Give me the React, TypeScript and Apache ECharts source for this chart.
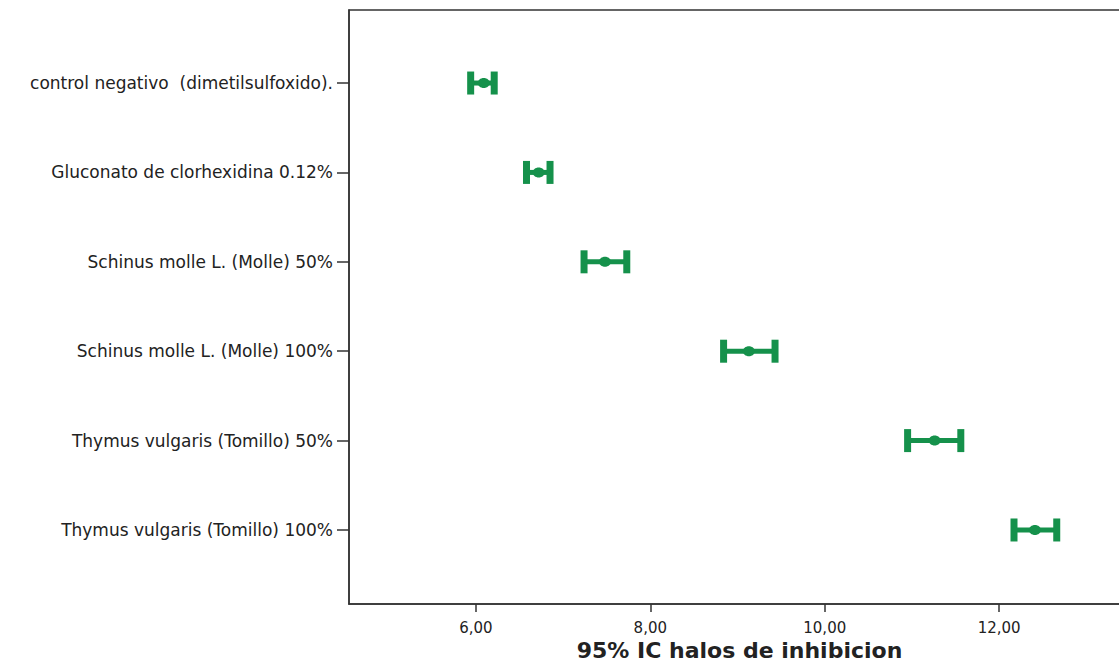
import React, { useEffect, useRef } from "react";
import * as echarts from "echarts";

const categories = [
  "control negativo  (dimetilsulfoxido).",
  "Gluconato de clorhexidina 0.12%",
  "Schinus molle L. (Molle) 50%",
  "Schinus molle L. (Molle) 100%",
  "Thymus vulgaris (Tomillo) 50%",
  "Thymus vulgaris (Tomillo) 100%",
];
const lower = [5.94, 6.58, 7.24, 8.84, 10.95, 12.17];
const means = [6.09, 6.72, 7.48, 9.13, 11.26, 12.41];
const upper = [6.21, 6.85, 7.73, 9.43, 11.56, 12.66];
const xTicks = [6, 8, 10, 12];
const xTitle = "95% IC halos de inhibicion";

const GREEN = "#15914b";

export default function App() {
  const ref = useRef<HTMLDivElement>(null);
  useEffect(() => {
    document.body.style.margin = "0";
    const chart = echarts.init(ref.current!, null, { renderer: "svg" });
    const data = categories.map((_, i) => [lower[i], means[i], upper[i], i]);
    chart.setOption({
      animation: false,
      backgroundColor: "#fff",
      textStyle: { fontFamily: "DejaVu Sans, Arial, sans-serif" },
      grid: {
        left: 349,
        width: 781,
        top: 10,
        height: 594,
        outerBoundsMode: "none",
        containLabel: false,
        show: true,
        borderColor: "#333",
        borderWidth: 1.5,
      },
      xAxis: {
        type: "value",
        min: 4.545,
        max: 13.5,
        splitLine: { show: false },
        axisLine: { show: true, onZero: false, lineStyle: { color: "#333", width: 1.5 } },
        axisTick: { show: true, customValues: xTicks, length: 8, lineStyle: { color: "#333", width: 1.5 } },
        axisLabel: {
          customValues: xTicks,
          formatter: (v: number) => v.toFixed(2).replace(".", ","),
          color: "#222",
          fontSize: 15,
          margin: 16,
        },
        name: xTitle,
        nameLocation: "middle",
        nameGap: 33,
        nameTextStyle: { fontSize: 22, fontWeight: "bold", color: "#222" },
      },
      yAxis: {
        type: "value",
        inverse: true,
        min: -0.817,
        max: 5.828,
        splitLine: { show: false },
        axisLine: { show: true, onZero: false, lineStyle: { color: "#333", width: 1.5 } },
        axisTick: { show: true, customValues: [0, 1, 2, 3, 4, 5], length: 12, lineStyle: { color: "#333", width: 1.5 } },
        axisLabel: {
          customValues: [0, 1, 2, 3, 4, 5],
          formatter: (v: number) => categories[Math.round(v)] ?? "",
          color: "#222",
          fontSize: 17,
          margin: 16,
        },
      },
      series: [
        {
          type: "custom",
          data,
          encode: { x: [0, 1, 2], y: 3 },
          renderItem: (params: any, api: any) => {
            const y = api.value(3);
            const pL = api.coord([api.value(0), y]);
            const pM = api.coord([api.value(1), y]);
            const pH = api.coord([api.value(2), y]);
            const style = { fill: GREEN };
            return {
              type: "group",
              children: [
                { type: "rect", shape: { x: pL[0], y: pL[1] - 2.5, width: pH[0] - pL[0], height: 5 }, style },
                { type: "rect", shape: { x: pL[0] - 3.5, y: pL[1] - 11.5, width: 7, height: 23 }, style },
                { type: "rect", shape: { x: pH[0] - 3.5, y: pH[1] - 11.5, width: 7, height: 23 }, style },
                { type: "ellipse", shape: { cx: pM[0], cy: pM[1], rx: 6, ry: 5 }, style },
              ],
            };
          },
        },
      ],
    });
    return () => chart.dispose();
  }, []);
  return <div ref={ref} style={{ width: 1119, height: 662 }} />;
}
